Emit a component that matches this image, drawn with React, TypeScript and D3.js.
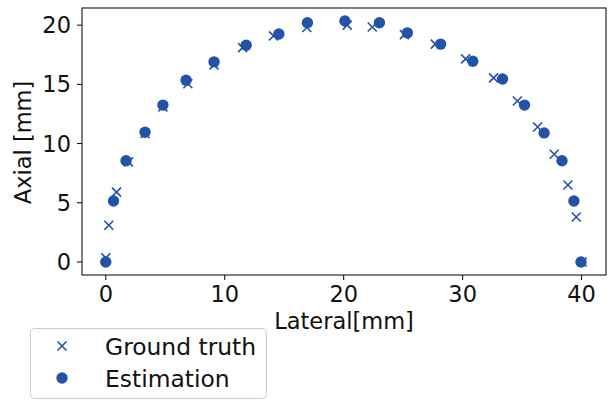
import * as d3 from "d3";

const gtX = [0.0, 0.25, 0.9, 1.9, 3.3, 4.8, 6.9, 9.1, 11.5, 14.1, 16.9, 20.3, 22.4, 25.1, 27.7, 30.25, 32.6, 34.6, 36.3, 37.7, 38.85, 39.55, 40.05];
const gtY = [0.35, 3.1, 5.9, 8.45, 10.85, 13.1, 15.05, 16.65, 18.1, 19.1, 19.8, 20.0, 19.85, 19.2, 18.4, 17.15, 15.55, 13.6, 11.4, 9.1, 6.5, 3.8, 0.0];

const estX = [0.0, 0.65, 1.7, 3.3, 4.8, 6.75, 9.1, 11.8, 14.55, 16.95, 20.1, 23.0, 25.35, 28.15, 30.85, 33.35, 35.2, 36.85, 38.35, 39.35, 39.95];
const estY = [0.0, 5.15, 8.55, 10.95, 13.25, 15.35, 16.9, 18.3, 19.25, 20.2, 20.35, 20.2, 19.35, 18.4, 16.95, 15.45, 13.25, 10.9, 8.55, 5.15, 0.0];

const xTicks = [0, 10, 20, 30, 40];
const yTicks = [0, 5, 10, 15, 20];

const color = "#2353a8";
const font = "DejaVu Sans, sans-serif";
const fs = 22.5;

export default function App() {
  const width = 609;
  const height = 400;
  const left = 82;
  const right = 606;
  const top = 8;
  const bottom = 275;

  const x = d3.scaleLinear().domain([-2.0, 42.05]).range([left, right]);
  const y = d3.scaleLinear().domain([-1.1, 21.45]).range([bottom, top]);

  const cross = (cx: number, cy: number, s: number) =>
    `M${cx - s},${cy - s}L${cx + s},${cy + s}M${cx - s},${cy + s}L${cx + s},${cy - s}`;

  return (
    <svg
      width={width}
      height={height}
      style={{ position: "absolute", left: 0, top: 0, background: "#fff" }}
      fontFamily={font}
    >
      {/* ground truth crosses */}
      {gtX.map((d, i) => (
        <path key={"g" + i} d={cross(x(d), y(gtY[i]), 4.5)} stroke={color} strokeWidth={1.6} fill="none" />
      ))}
      {/* estimations */}
      {estX.map((d, i) => (
        <circle key={"e" + i} cx={x(d)} cy={y(estY[i])} r={5.7} fill={color} />
      ))}

      <rect x={left} y={top} width={right - left} height={bottom - top} fill="none" stroke="#000" strokeWidth={1} />

      {xTicks.map((t) => (
        <g key={"x" + t} transform={`translate(${x(t)},${bottom})`}>
          <line y2={5} stroke="#000" />
          <text y={27} textAnchor="middle" fontSize={fs} fill="#111">
            {t}
          </text>
        </g>
      ))}
      {yTicks.map((t) => (
        <g key={"y" + t} transform={`translate(${left},${y(t)})`}>
          <line x2={-5} stroke="#000" />
          <text x={-11} dy="0.36em" textAnchor="end" fontSize={fs} fill="#111">
            {t}
          </text>
        </g>
      ))}

      <text x={344} y={329} textAnchor="middle" fontSize={fs} fill="#111">
        Lateral[mm]
      </text>
      <text
        transform={`translate(30.5,142.5) rotate(-90)`}
        textAnchor="middle"
        fontSize={fs}
        fill="#111"
      >
        Axial [mm]
      </text>

      {/* legend */}
      <rect x={30.5} y={328.5} width={236} height={70} rx={4} fill="#fff" stroke="#ccc" strokeWidth={1} />
      <path d={cross(62, 346, 4.5)} stroke={color} strokeWidth={1.6} fill="none" />
      <text x={105} y={355} fontSize={23.4} fill="#111">
        Ground truth
      </text>
      <circle cx={62} cy={378} r={5.7} fill={color} />
      <text x={105} y={386.5} fontSize={23.4} fill="#111">
        Estimation
      </text>
    </svg>
  );
}
